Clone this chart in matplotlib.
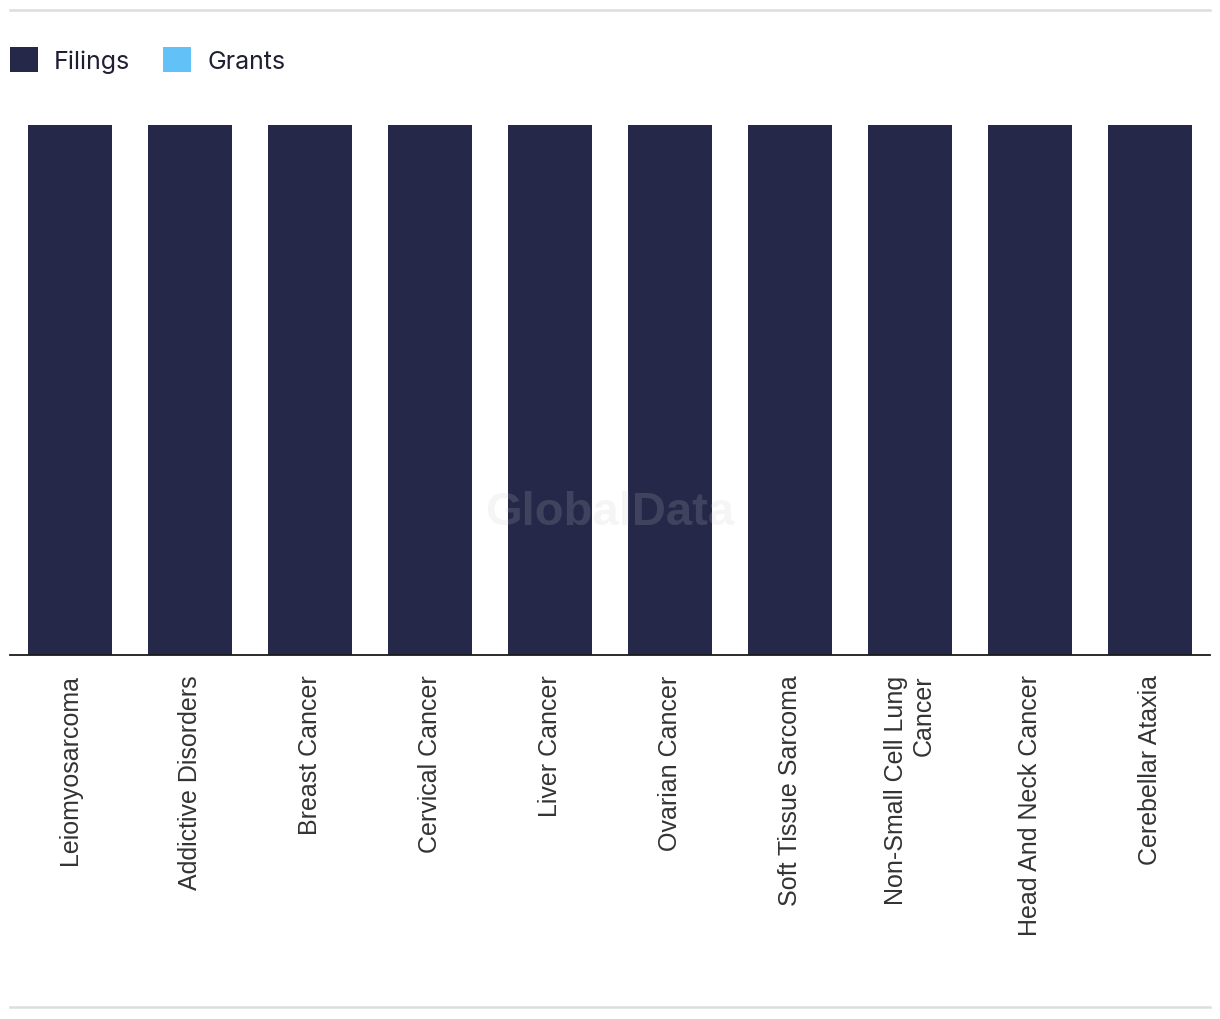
import matplotlib
matplotlib.use("Agg")
import matplotlib.pyplot as plt
from matplotlib.patches import Patch
from matplotlib.lines import Line2D
import numpy as np

# Data
categories = [
    "Leiomyosarcoma", "Addictive Disorders", "Breast Cancer", "Cervical Cancer",
    "Liver Cancer", "Ovarian Cancer", "Soft Tissue Sarcoma",
    "Non-Small Cell Lung\nCancer", "Head And Neck Cancer", "Cerebellar Ataxia",
]
filings = [1, 1, 1, 1, 1, 1, 1, 1, 1, 1]
grants = [0, 0, 0, 0, 0, 0, 0, 0, 0, 0]

FILING_COLOR = "#262849"
GRANT_COLOR = "#62c2f8"

W, H = 1220, 1020
fig = plt.figure(figsize=(W / 100, H / 100), dpi=100)
ax = fig.add_axes([10 / W, 1 - 656 / H, 1200 / W, 530 / H])

x = np.arange(len(categories))
ax.bar(x, filings, width=0.7, color=FILING_COLOR, zorder=2)
ax.bar(x, grants, width=0.7, bottom=filings, color=GRANT_COLOR, zorder=2)

ax.set_xlim(-0.5, len(categories) - 0.5)
ax.set_ylim(0, max(filings))
for s in ["top", "right", "left"]:
    ax.spines[s].set_visible(False)
ax.spines["bottom"].set_color("#1a1a1a")
ax.spines["bottom"].set_linewidth(1.3)
ax.spines["bottom"].set_zorder(3)
ax.set_yticks([])
ax.set_xticks(x)
ax.set_xticklabels(categories, rotation=90, va="top", ha="center",
                   multialignment="right", fontsize=18,
                   family="Liberation Sans", color="#333333")
ax.tick_params(axis="x", length=0, pad=14)

# watermark
ax.text(0.5, 0.27, "GlobalData", transform=ax.transAxes, ha="center", va="center",
        fontsize=34, fontweight="bold", family="Liberation Sans",
        color="#c8c8c8", alpha=0.17, zorder=5)

# legend
handles = [Patch(facecolor=FILING_COLOR, label="Filings"),
           Patch(facecolor=GRANT_COLOR, label="Grants")]
fig.legend(handles=handles, loc="center left", bbox_to_anchor=(0 / W, 1 - 61 / H),
           ncol=2, frameon=False, handlelength=1.12, handleheight=1.12,
           handletextpad=0.65, columnspacing=1.3, borderaxespad=0,
           prop={"family": "Inter", "size": 18}, labelcolor="#1f1f33")

# top / bottom rules
for yy in (11, 1008):
    fig.add_artist(Line2D([10 / W, 1210 / W], [1 - yy / H] * 2,
                          color="#dddddd", lw=1.8))

fig.savefig("out.png", dpi=100)
